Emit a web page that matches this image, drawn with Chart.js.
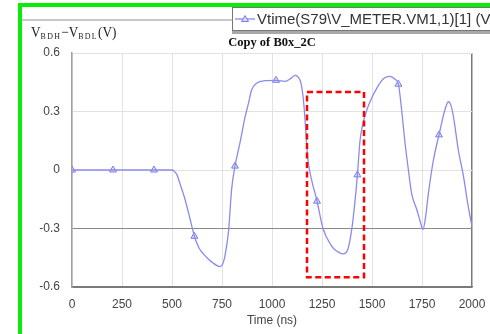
<!DOCTYPE html>
<html>
<head>
<meta charset="utf-8">
<script src="https://cdn.jsdelivr.net/npm/chart.js@4"></script>
<style>
  html, body { margin:0; padding:0; background:#fff; }
  #wrap { position:relative; width:490px; height:334px; overflow:hidden; background:#fff; }
  canvas { position:absolute; left:0; top:0; }
  .green-left { position:absolute; left:18px; top:3px; width:4px; height:331px; background:#08ec08; }
  .green-top { position:absolute; left:18px; top:3px; width:472px; height:4px; background:#08ec08; }
  .topline { position:absolute; left:22px; top:19px; width:212px; height:2px; background:#c8c8c8; }
  .legend { position:absolute; left:232px; top:7px; width:300px; height:22px; background:#fff;
            border:1px solid #777; box-shadow:0 3px 0 #a8a8a8; }
  .legend svg { position:absolute; left:2px; top:5px; }
  .legend span { position:absolute; left:24px; top:2px; font:15px "Liberation Sans", Arial, sans-serif; color:#333; white-space:nowrap; }
  .title { position:absolute; left:72px; top:35px; width:400px; text-align:center;
           font:bold 12.5px "Liberation Serif", "Times New Roman", serif; color:#111; }
  .ylab { position:absolute; left:31px; top:23px; white-space:nowrap; color:#222;
          font-family:"Liberation Serif", "Times New Roman", serif; transform:scaleX(0.88); transform-origin:left; }
  .ylab .b { font-size:15px; }
  .ylab .s { font-size:9px; letter-spacing:1.5px; vertical-align:-2px; }
</style>
</head>
<body>
<div id="wrap">
  <canvas id="c" width="490" height="334"></canvas>
  <div class="green-left"></div>
  <div class="green-top"></div>
  <div class="topline"></div>
  <div class="legend">
    <svg width="22" height="12" viewBox="0 0 22 12">
      <line x1="0" y1="6" x2="20" y2="6" stroke="#8a8aee" stroke-width="1.3"/>
      <polygon points="10,2.5 13.5,8.5 6.5,8.5" fill="#d8d8ff" stroke="#7a7ae8" stroke-width="1"/>
    </svg>
    <span>Vtime(S79\V_METER.VM1,1)[1] (V)</span>
  </div>
  <div class="title">Copy of B0x_2C</div>
  <div class="ylab"><span class="b">V</span><span class="s">BDH</span><span class="b">−V</span><span class="s">BDL</span><span class="b">(V)</span></div>
</div>
<script>
// ---- data ----
const timeNs = [0,100,200,300,400,500,510,525,540,565,590,612,635,657,685,707,725,740,752,765,783,798,815,840,865,882,898,923,965,1020,1065,1095,1115,1132,1145,1157,1165,1172,1180,1200,1223,1255,1298,1330,1355,1378,1398,1413,1427,1440,1455,1475,1490,1530,1560,1590,1615,1632,1648,1665,1682,1698,1723,1740,1755,1768,1782,1807,1835,1865,1882,1895,1907,1932,1957,1980,2000];
const voltV  = [0,0,0,0,0,0,-0.005,-0.025,-0.07,-0.15,-0.25,-0.34,-0.40,-0.43,-0.46,-0.478,-0.49,-0.495,-0.485,-0.44,-0.31,-0.10,0.02,0.14,0.27,0.34,0.41,0.445,0.458,0.46,0.455,0.47,0.485,0.475,0.445,0.36,0.26,0.15,0.05,-0.06,-0.15,-0.30,-0.39,-0.42,-0.43,-0.41,-0.31,-0.18,-0.025,0.15,0.24,0.31,0.35,0.43,0.47,0.48,0.465,0.44,0.31,0.14,0.0,-0.12,-0.20,-0.26,-0.305,-0.24,-0.12,0.05,0.18,0.31,0.35,0.33,0.275,0.10,-0.03,-0.18,-0.29];
const markerT = [0,205,410,612,815,1020,1225,1427,1632,1835];
const markerV = [0,0,0,-0.34,0.02,0.46,-0.16,-0.025,0.44,0.18];
const xTicks = [0,250,500,750,1000,1250,1500,1750,2000];
const yTicks = [-0.6,-0.3,0,0.3,0.6];
const boxT = [1175,1460];
const boxV = [0.40,-0.55];
const seriesLabel = 'Vtime(S79\\V_METER.VM1,1)[1] (V)';

const lineColor = '#8a8aee';

const boxPlugin = {
  id:'redBox',
  afterDatasetsDraw(chart){
    const {ctx, scales:{x,y}} = chart;
    const l = x.getPixelForValue(boxT[0]), r = x.getPixelForValue(boxT[1]);
    const t = y.getPixelForValue(boxV[0]), b = y.getPixelForValue(boxV[1]);
    ctx.save();
    ctx.strokeStyle = '#ff0000';
    ctx.lineWidth = 2.5;
    ctx.setLineDash([6,3.5]);
    ctx.strokeRect(l, t, r-l, b-t);
    ctx.restore();
  }
};

new Chart(document.getElementById('c'), {
  type:'line',
  data:{
    datasets:[
      {
        label: seriesLabel,
        data: timeNs.map((t,i)=>({x:t, y:voltV[i]})),
        borderColor: lineColor,
        borderWidth: 1.3,
        pointRadius: 0,
        cubicInterpolationMode: 'monotone',
        fill:false
      },
      {
        label: seriesLabel + ' markers',
        data: markerT.map((t,i)=>({x:t, y:markerV[i]})),
        showLine:false,
        pointStyle:'triangle',
        pointRadius:4,
        borderColor:'#7a7ae8',
        backgroundColor:'rgba(216,216,255,0.8)',
        borderWidth:1
      }
    ]
  },
  options:{
    responsive:false,
    animation:false,
    layout:{ padding:{ left:0, top:53, right:18, bottom:0 } },
    plugins:{ legend:{display:false}, tooltip:{enabled:false}, title:{display:false} },
    scales:{
      x:{
        type:'linear', min:0, max:2000,
        afterBuildTicks: s => { s.ticks = xTicks.map(v=>({value:v})); },
        afterFit: s => { s.height = 47; s.paddingLeft = 0; s.paddingRight = 0; },
        grid:{
          drawTicks:false,
          color: c => (c.tick && c.tick.value === 2000) ? '#7a7a7a' : '#e2e2e2',
          lineWidth: c => (c.tick && c.tick.value === 2000) ? 1.5 : 1
        },
        border:{ color:'#7a7a7a', width:1.5 },
        ticks:{ padding:10, color:'#444', font:{family:'"Liberation Sans", Arial, sans-serif', size:12}, maxRotation:0,
                callback: v => String(v) },
        title:{ display:true, text:'Time (ns)', color:'#444', padding:{top:0,bottom:6},
                font:{family:'"Liberation Sans", Arial, sans-serif', size:12} }
      },
      y:{
        type:'linear', min:-0.6, max:0.6,
        afterBuildTicks: s => { s.ticks = yTicks.map(v=>({value:v})); },
        afterFit: s => { s.width = 72; s.paddingTop = 0; s.paddingBottom = 0; },
        grid:{
          drawTicks:false,
          color: c => {
            const v = c.tick ? c.tick.value : null;
            if (v !== null && Math.abs(v + 0.3) < 1e-9) return '#8a8a8a';
            if (v !== null && Math.abs(v + 0.6) < 1e-9) return '#7a7a7a';
            return '#e2e2e2';
          }
        },
        border:{ color:'#a0a0a0', width:1.5 },
        ticks:{ padding:12, color:'#444', font:{family:'"Liberation Sans", Arial, sans-serif', size:12},
                callback: v => (Math.abs(v) < 1e-9 ? '0' : v.toFixed(1)) }
      }
    }
  },
  plugins:[boxPlugin]
});
</script>
</body>
</html>
